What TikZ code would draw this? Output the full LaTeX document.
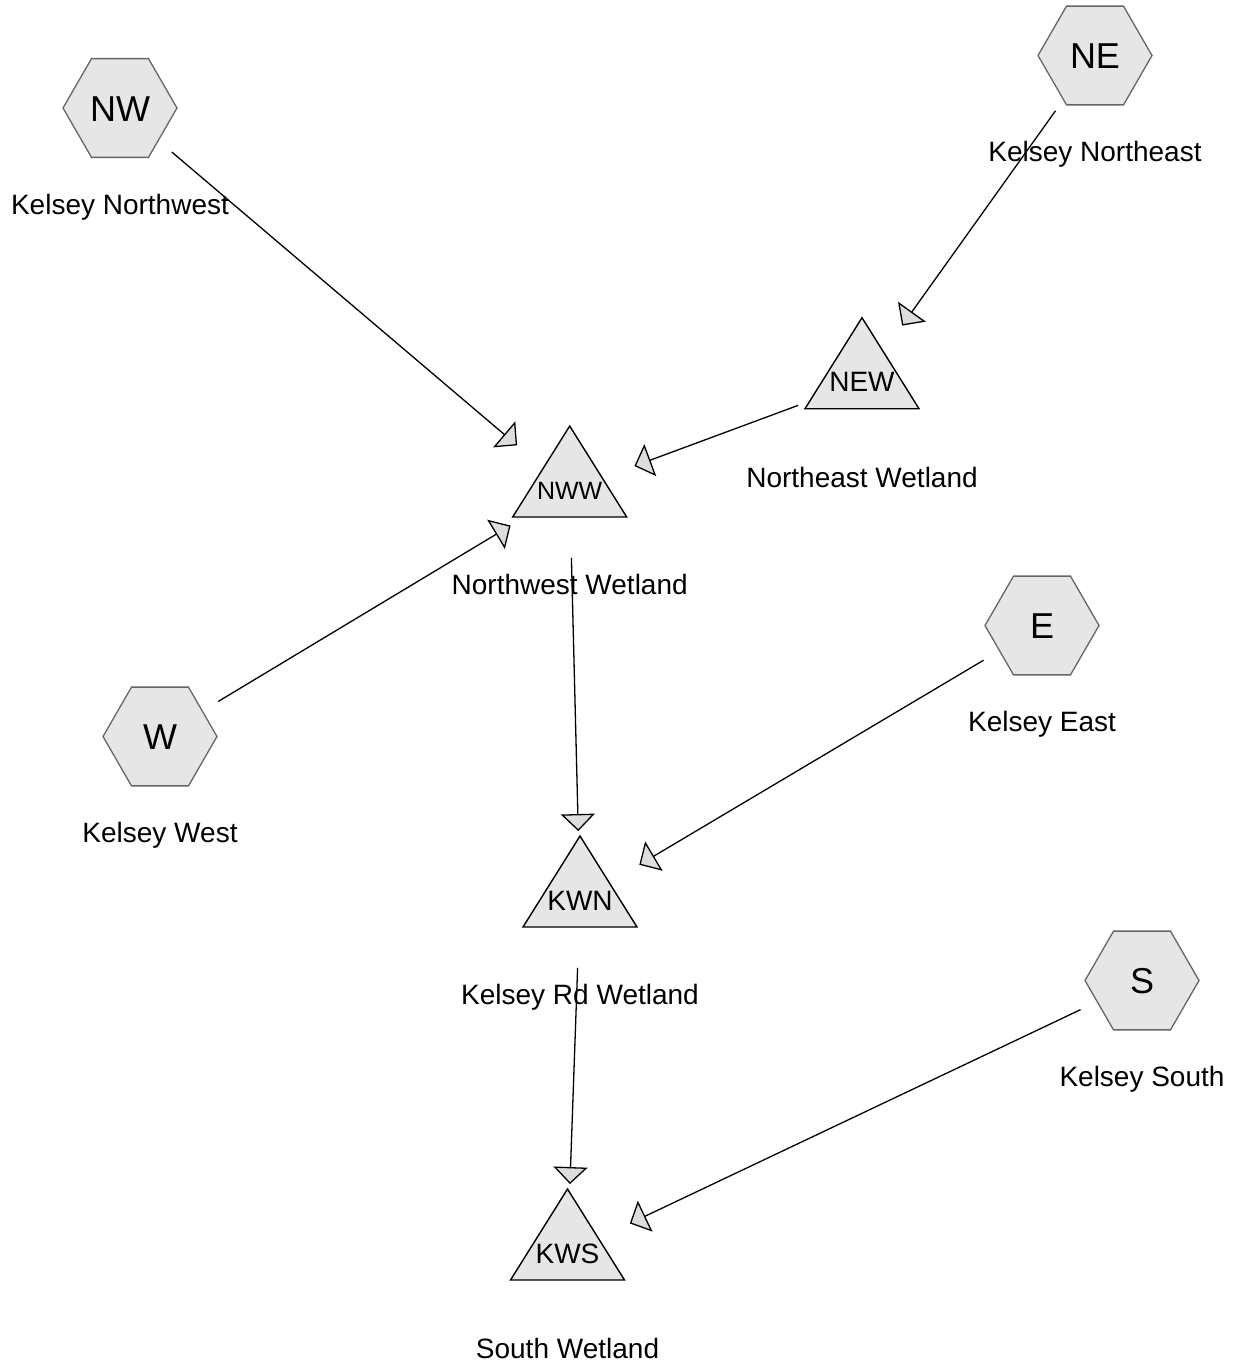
\documentclass[tikz,border=0pt]{standalone}
\usepackage{fontspec}
\setmainfont{Liberation Sans}
\usetikzlibrary{shapes.geometric,arrows.meta}
\definecolor{shapefill}{HTML}{E6E6E6}
\definecolor{hexborder}{HTML}{666666}
\definecolor{arrowfill}{HTML}{DDDDDD}
\tikzset{
  hexa/.style={regular polygon, regular polygon sides=6, minimum size=114pt, inner sep=0pt,
    draw=hexborder, fill=shapefill, line width=1.3pt,
    font=\fontsize{36}{40}\selectfont, text height=26pt, text depth=0pt},
  tri/.style={draw=black, fill=shapefill, line width=1.4pt, line join=miter},
  tritext/.style={inner sep=0pt, font=\fontsize{28}{32}\selectfont, text height=20pt, text depth=0pt},
  lbl/.style={inner sep=0pt, font=\fontsize{28}{32}\selectfont, text height=20pt, text depth=0pt},
  flow/.style={draw=black, line width=1.3pt, shorten <=68pt, shorten >=69pt,
    -{Triangle[length=17pt,width=34pt,fill=arrowfill,line join=miter]}},
}
\begin{document}
\begin{tikzpicture}[x=1pt,y=-1pt]
\useasboundingbox (0,0) rectangle (1236,1363);
% triangle centres (text centres)
\coordinate (nww) at (569.7,490);
\coordinate (new) at (862,381.7);
\coordinate (kwn) at (580,900);
\coordinate (kws) at (567.5,1253);
% triangles
\draw[tri] (nww) ++(0,-64) -- ++(-57,91) -- ++(114,0) -- cycle;
\draw[tri] (new) ++(0,-64) -- ++(-57,91) -- ++(114,0) -- cycle;
\draw[tri] (kwn) ++(0,-64) -- ++(-57,91) -- ++(114,0) -- cycle;
\draw[tri] (kws) ++(0,-64) -- ++(-57,91) -- ++(114,0) -- cycle;
\node[tritext, font=\fontsize{25}{30}\selectfont, text height=18pt] (nwwt) at (nww) {NWW};
\node[tritext] (newt) at (new) {NEW};
\node[tritext] (kwnt) at (kwn) {KWN};
\node[tritext] (kwst) at (kws) {KWS};
% hexagons
\node[hexa] (nw) at (120,108) {NW};
\node[hexa] (ne) at (1095,55.5) {NE};
\node[hexa] (e) at (1042,625.5) {E};
\node[hexa] (w) at (160,736.5) {W};
\node[hexa] (s) at (1142,980.5) {S};
% labels
\node[lbl] (nwl) at (120,204) {Kelsey Northwest};
\node[lbl] (nel) at (1095,151.5) {Kelsey Northeast};
\node[lbl] (el) at (1042,721.5) {Kelsey East};
\node[lbl] (wl) at (160,832.5) {Kelsey West};
\node[lbl] (sl) at (1142,1076.5) {Kelsey South};
\node[lbl] (nwwl) at (569.7,584) {Northwest Wetland};
\node[lbl] (newl) at (862,477) {Northeast Wetland};
\node[lbl] (kwnl) at (580,994) {Kelsey Rd Wetland};
\node[lbl] (kwsl) at (567.5,1348) {South Wetland};
% connectors
\draw[flow] (nw.center) -- (nww);
\draw[flow] (ne.center) -- (new);
\draw[flow] (new) -- (nww);
\draw[flow] (w.center) -- (nww);
\draw[flow] (nww) -- (kwn);
\draw[flow] (e.center) -- (kwn);
\draw[flow] (kwn) -- (kws);
\draw[flow] (s.center) -- (kws);
\end{tikzpicture}
\end{document}
